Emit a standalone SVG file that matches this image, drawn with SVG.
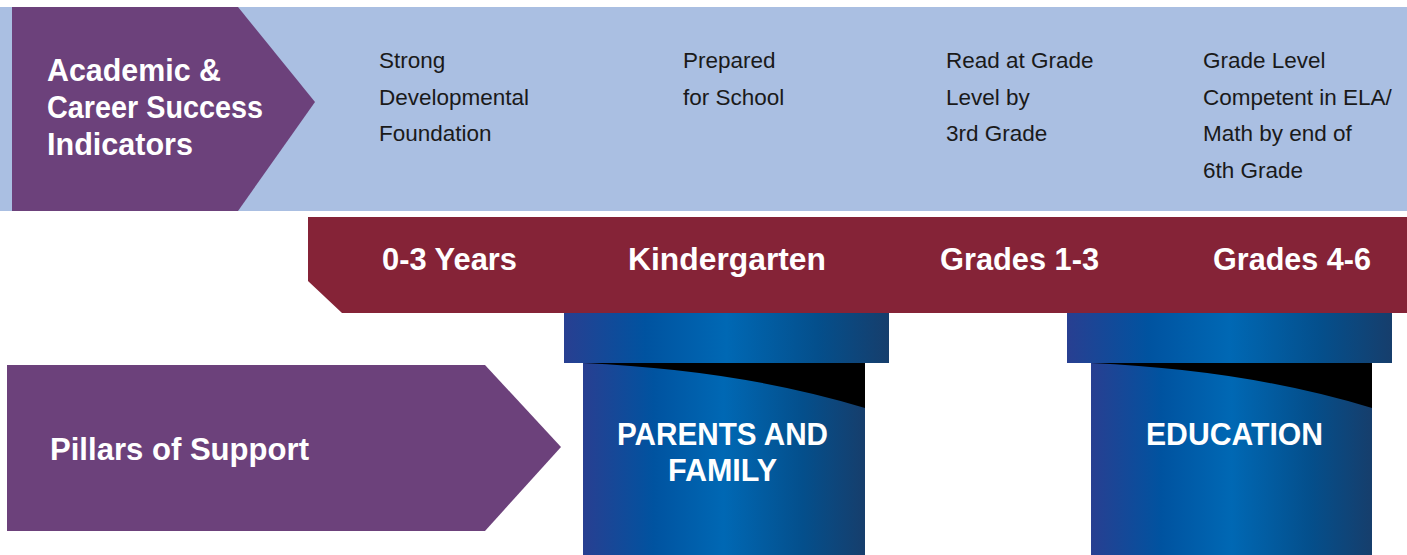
<svg xmlns="http://www.w3.org/2000/svg" width="1407" height="555" viewBox="0 0 1407 555">
<style>
.hd{font-family:"Liberation Sans",Arial,sans-serif;font-weight:bold;fill:#ffffff;font-size:30.5px}
.ds{font-family:"Liberation Sans",Arial,sans-serif;fill:#1a1a1a;font-size:22.5px}
</style>
<defs>
<linearGradient id="pg" x1="0" y1="0" x2="1" y2="0">
<stop offset="0" stop-color="#283f91"/>
<stop offset="0.25" stop-color="#0053a0"/>
<stop offset="0.5" stop-color="#0068b4"/>
<stop offset="0.78" stop-color="#044f8c"/>
<stop offset="1" stop-color="#163e6c"/>
</linearGradient>
</defs>
<rect width="1407" height="555" fill="#ffffff"/>
<g id="indicators-band">
<rect x="0" y="7" width="1407" height="204" fill="#aabfe2"/>
<polygon points="12,7 238,7 315,102 238,211 12,211" fill="#6c417b"/>
<text class="hd" x="47" y="81" textLength="174" lengthAdjust="spacingAndGlyphs">Academic &amp;</text>
<text class="hd" x="47" y="118" textLength="216" lengthAdjust="spacingAndGlyphs">Career Success</text>
<text class="hd" x="47" y="155" textLength="146" lengthAdjust="spacingAndGlyphs">Indicators</text>
</g>
<g id="indicator-1">
<text class="ds" x="379" y="68">Strong</text>
<text class="ds" x="379" y="105">Developmental</text>
<text class="ds" x="379" y="141">Foundation</text>
</g>
<g id="indicator-2">
<text class="ds" x="683" y="68">Prepared</text>
<text class="ds" x="683" y="105">for School</text>
</g>
<g id="indicator-3">
<text class="ds" x="946" y="68">Read at Grade</text>
<text class="ds" x="946" y="105">Level by</text>
<text class="ds" x="946" y="141">3rd Grade</text>
</g>
<g id="indicator-4">
<text class="ds" x="1203" y="68">Grade Level</text>
<text class="ds" x="1203" y="105">Competent in ELA/</text>
<text class="ds" x="1203" y="141">Math by end of</text>
<text class="ds" x="1203" y="178">6th Grade</text>
</g>
<g id="age-band">
<polygon points="308,217 1407,217 1407,313 342,313 308,281" fill="#852337"/>
<text class="hd" x="382" y="270" textLength="135" lengthAdjust="spacingAndGlyphs">0-3 Years</text>
<text class="hd" x="628" y="270" textLength="198" lengthAdjust="spacingAndGlyphs">Kindergarten</text>
<text class="hd" x="940" y="270" textLength="159" lengthAdjust="spacingAndGlyphs">Grades 1-3</text>
<text class="hd" x="1213" y="270" textLength="158" lengthAdjust="spacingAndGlyphs">Grades 4-6</text>
</g>
<g id="pillars-label">
<polygon points="7,365 485,365 561,447 485,531 7,531" fill="#6c417b"/>
<text class="hd" x="50" y="460" textLength="259" lengthAdjust="spacingAndGlyphs">Pillars of Support</text>
</g>
<g id="pillar-parents">
<rect x="564" y="313" width="325" height="50" fill="url(#pg)"/>
<rect x="583" y="363" width="282" height="192" fill="url(#pg)"/>
<path d="M583,363 L865,363 L865,408 Q740,370 583,363 Z" fill="#000000"/>
<text class="hd" x="617" y="445" textLength="211" lengthAdjust="spacingAndGlyphs">PARENTS AND</text>
<text class="hd" x="668" y="481" textLength="109" lengthAdjust="spacingAndGlyphs">FAMILY</text>
</g>
<g id="pillar-education">
<rect x="1067" y="313" width="325" height="50" fill="url(#pg)"/>
<rect x="1091" y="363" width="281" height="192" fill="url(#pg)"/>
<path d="M1091,363 L1372,363 L1372,408 Q1248,370 1091,363 Z" fill="#000000"/>
<text class="hd" x="1146" y="445" textLength="177" lengthAdjust="spacingAndGlyphs">EDUCATION</text>
</g>
<g id="connectors"></g>
</svg>
